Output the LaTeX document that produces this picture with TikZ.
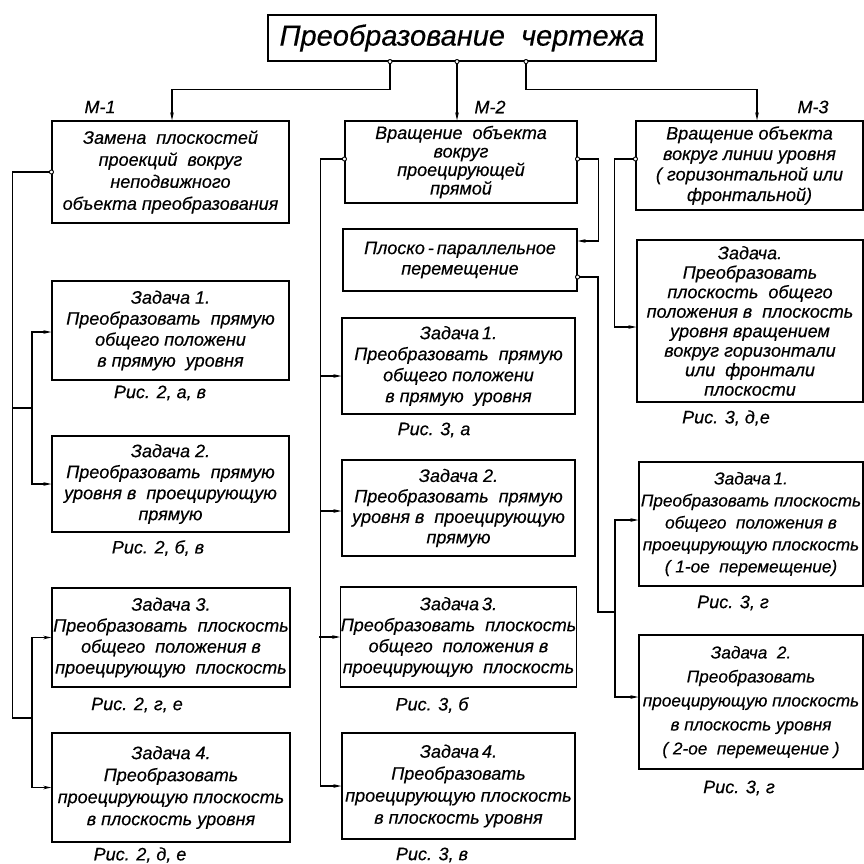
\documentclass[tikz,border=0pt]{standalone}
\usepackage{fontspec}
\setmainfont{Liberation Sans}[ItalicFeatures={FakeBold=0.4}]
\usetikzlibrary{arrows.meta,positioning}

\begin{document}
\begin{tikzpicture}[x=1pt,y=-1pt,
    box/.style={rectangle,draw,line width=1.1pt,align=center,inner sep=0pt,font=\itshape\fontsize{18}{20.5}\selectfont},
    figcap/.style={font=\itshape\fontsize{18}{20}\selectfont},
    conn/.style={line width=1.4pt},
    arr/.style={conn,-{Stealth[length=8pt,width=3.5pt]}},
    arrin/.style={conn,{Stealth[length=8pt,width=3.5pt]}-},
    outlet/.style={conn,{Circle[open,fill=white,length=5pt,width=5pt,line width=0.9pt]}-,shorten <=-2.5pt},
    outarr/.style={conn,{Circle[open,fill=white,length=5pt,width=5pt,line width=0.9pt]}-{Stealth[length=8pt,width=3.5pt]},shorten <=-2.5pt}]
  \useasboundingbox (0,0) rectangle (864,864);

  % Title
  \node[box,minimum width=388pt,minimum height=46pt,font=\itshape\fontsize{29}{30}\selectfont] (title) at (462,38) {Преобразование\ \ чертежа};

  % Methods
  \node[box,minimum width=237pt,minimum height=102pt,font=\itshape\fontsize{18}{22}\selectfont] (m1) at (170.5,172) {Замена\ \ плоскостей\\ проекций\ \ вокруг\\неподвижного\\объекта преобразования};
  \node[box,minimum width=232pt,minimum height=82pt,font=\itshape\fontsize{18}{18.5}\selectfont] (m2) at (461,162) {Вращение\ \ объекта\\вокруг\\проецирующей\\прямой};
  \node[box,minimum width=227pt,minimum height=89pt] (m3) at (749.5,165.5) {Вращение объекта\\вокруг линии уровня\\( горизонтальной или\\фронтальной)};
  \node[figcap] (lm1) at (100,107) {М-1};
  \node[figcap] (lm2) at (490,107) {М-2};
  \node[figcap] (lm3) at (813,107) {М-3};

  % Method 1 tasks
  \node[box,minimum width=237pt,minimum height=99pt,font=\itshape\fontsize{18}{21}\selectfont] (t11) at (170.5,330.5) {Задача 1.\\Преобразовать\ \ прямую\\общего положени\\в прямую\ \ уровня};
  \node[box,minimum width=237pt,minimum height=96pt,font=\itshape\fontsize{18}{21}\selectfont] (t12) at (170.5,484) {Задача 2.\\Преобразовать\ \ прямую\\уровня в\ \ проецирующую\\прямую};
  \node[box,minimum width=238pt,minimum height=99pt,font=\itshape\fontsize{18}{21}\selectfont] (t13) at (171,637.5) {Задача 3.\\Преобразовать\ \ плоскость\\общего\ \ положения в\\проецирующую\ \ плоскость};
  \node[box,minimum width=238pt,minimum height=109pt,font=\itshape\fontsize{18}{22}\selectfont] (t14) at (171,787.5) {Задача 4.\\Преобразовать\\проецирующую плоскость\\в плоскость уровня};
  \node[figcap] (c11) at (160,393) {Рис. 2, а, в};
  \node[figcap] (c12) at (158,548) {Рис. 2, б, в};
  \node[figcap] (c13) at (137,705) {Рис. 2, г, е};
  \node[figcap] (c14) at (140,855) {Рис. 2, д, е};

  % Method 2 tasks
  \node[box,minimum width=234pt,minimum height=62pt] (pp) at (460,260) {Плоско\,-\,параллельное\\перемещение};
  \node[box,minimum width=233pt,minimum height=96pt,font=\itshape\fontsize{18}{21}\selectfont] (t21) at (458.5,366) {Задача\,1.\\Преобразовать\ \ прямую\\общего положени\\в прямую\ \ уровня};
  \node[box,minimum width=233pt,minimum height=96pt] (t22) at (458.5,508) {Задача 2.\\Преобразовать\ \ прямую\\уровня в\ \ проецирующую\\прямую};
  \node[box,minimum width=233pt,minimum height=100pt,font=\itshape\fontsize{18}{21}\selectfont] (t23) at (458.5,637) {Задача\,3.\\Преобразовать\ \ плоскость\\общего\ \ положения в\\проецирующую\ \ плоскость};
  \node[box,minimum width=233pt,minimum height=106pt,font=\itshape\fontsize{18}{22}\selectfont] (t24) at (458.5,786) {Задача\,4.\\Преобразовать\\проецирующую плоскость\\в плоскость уровня};
  \node[figcap] (c21) at (434,430) {Рис. 3, а};
  \node[figcap] (c23) at (432,705) {Рис. 3, б};
  \node[figcap] (c24) at (432,855) {Рис. 3, в};

  % Method 3 tasks
  \node[box,minimum width=226pt,minimum height=162pt,font=\itshape\fontsize{18}{19.5}\selectfont] (t30) at (750,321) {Задача.\\Преобразовать\\плоскость\ \ общего\\положения в\ \ плоскость\\уровня вращением\\вокруг горизонтали\\или\ \ фронтали\\плоскости};
  \node[box,minimum width=224pt,minimum height=124pt,font=\itshape\fontsize{17.2}{22}\selectfont] (t31) at (751,524) {Задача\,1.\\Преобразовать плоскость\\общего\ \ положения в\\проецирующую плоскость\\( 1-ое\ \ перемещение)};
  \node[box,minimum width=224pt,minimum height=134pt,font=\itshape\fontsize{17.2}{24}\selectfont] (t32) at (751,702) {Задача\ \ 2.\\Преобразовать\\проецирующую плоскость\\в плоскость уровня\\( 2-ое\ \ перемещение )};
  \node[figcap] (c30) at (726,418) {Рис. 3, д,е};
  \node[figcap] (c31) at (733,603) {Рис. 3, г};
  \node[figcap] (c32) at (739,788) {Рис. 3, г};

  % Title outlets
  \draw[outarr] ([xshift=-72pt]title.south) -- ++(0,28) -| ([xshift=1.5pt]m1.north);
  \draw[outarr] ([xshift=-5pt]title.south) -- ([xshift=-4pt]m2.north);
  \draw[outarr] ([xshift=64pt]title.south) -- ++(0,28) -| ([xshift=7.5pt]m3.north);

  % Method 1 branches
  \coordinate (j1) at (32,408);
  \coordinate (j2) at (32,718);
  \draw[outlet] (m1.west) -- ++(-39,0) |- (j2);
  \draw[conn] (j1) -- ++(-19,0);
  \draw[arr] (j1) |- ([yshift=-1.5pt]t11.west);
  \draw[arr] (j1) |- (t12.west);
  \draw[arr] (j2) |- (t13.west);
  \draw[arr] (j2) |- (t14.west);

  % Method 2 branches
  \draw[outarr] ([yshift=3pt]m2.west) -- ++(-24,0) |- (t24.west);
  \foreach \t/\dy in {t21/-10,t22/-3,t23/0}
    \draw[arrin] ([yshift=\dy pt]\t.west) -- ++(-21,0);
  \draw[outarr] ([yshift=3pt]m2.east) -- ++(21,0) |- ([yshift=19pt]pp.east);
  \coordinate (j3) at (615,612);
  \draw[outlet] ([yshift=-17pt]pp.east) -| ([xshift=-17pt]j3) -- (j3);
  \draw[arr] (j3) |- ([yshift=4pt]t31.west);
  \draw[arr] (j3) |- ([yshift=5pt]t32.west);

  % Method 3 branch
  \draw[outarr] ([yshift=6.5pt]m3.west) -- ++(-21,0) |- ([yshift=-6pt]t30.west);
\end{tikzpicture}
\end{document}
